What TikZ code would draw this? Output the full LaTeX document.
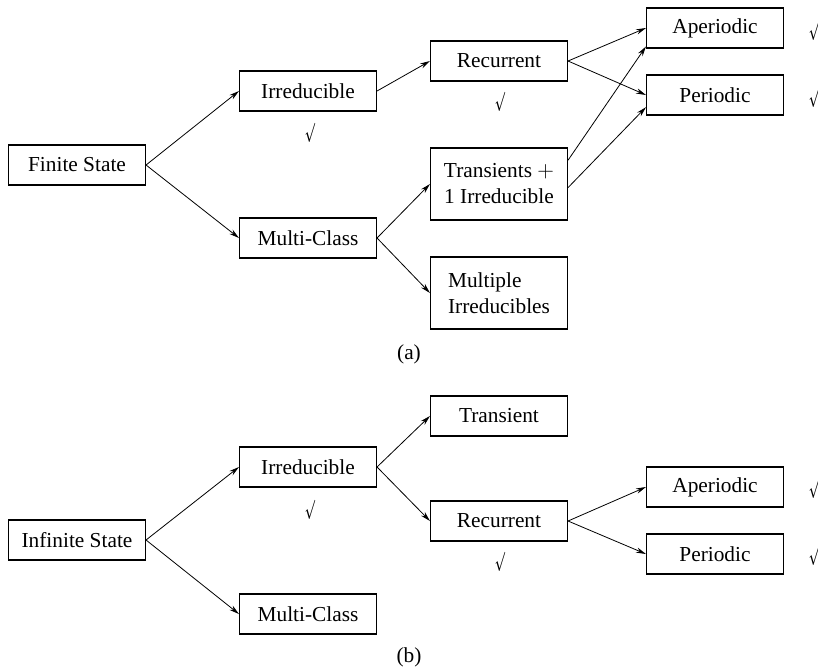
\documentclass[tikz,border=0pt]{standalone}
\usepackage{graphicx}
\usepackage{fontspec}
\setmainfont{Liberation Serif}
\usetikzlibrary{arrows.meta}

\newcommand{\tick}{\scalebox{0.55}[1]{\boldmath$\surd$}}

\begin{document}
\begin{tikzpicture}[x=0.75pt, y=-0.75pt,
  box/.style={draw, line width=0.8pt, minimum width=102.75pt, minimum height=30pt, inner sep=2pt, font=\fontsize{16}{19.5}\selectfont},
  tallbox/.style={box, minimum height=54pt},
  chk/.style={inner sep=0pt, font=\fontsize{14}{14}\selectfont},
  lbl/.style={inner sep=0pt, font=\fontsize{16}{18}\selectfont},
  arr/.style={-{Stealth[length=7.5pt, width=4pt]}, line width=0.6pt}]
  \useasboundingbox (0,0) rectangle (818,669);

  % (a) finite state chains
  \node[box] (fin)  at (77,165)  {Finite State};
  \node[box] (irra) at (308,91)  {Irreducible};
  \node[box] (mca)  at (308,238) {Multi-Class};
  \node[box] (reca) at (499,61)  {Recurrent};
  \node[tallbox, align=center] (trans) at (499,184) {Transients $+$\\1 Irreducible};
  \node[tallbox, align=left]   (mult)  at (499,293) {Multiple\\Irreducibles};
  \node[box] (apera) at (715,28) {Aperiodic};
  \node[box] (pera)  at (715,95) {Periodic};

  \node[chk] (c1) at (310,133) {\tick};
  \node[chk] (c2) at (500,102) {\tick};
  \node[chk] (c3) at (814,31)  {\tick};
  \node[chk] (c4) at (814,98)  {\tick};

  \draw[arr] (fin.east)  -- (irra.west);
  \draw[arr] (fin.east)  -- (mca.west);
  \draw[arr] (irra.east) -- (reca.west);
  \draw[arr] (reca.east) -- (apera.west);
  \draw[arr] (reca.east) -- (pera.west);
  \draw[arr] (mca.east)  -- (trans.west);
  \draw[arr] (mca.east)  -- (mult.west);
  \draw[arr] (trans.19)  -- (apera.195);
  \draw[arr] (trans.-3)  -- (pera.190);

  \node[lbl] (la) at (409,354) {(a)};

  % (b) infinite state chains
  \node[box] (inf)  at (77,540)  {Infinite State};
  \node[box] (irrb) at (308,467) {Irreducible};
  \node[box] (mcb)  at (308,614) {Multi-Class};
  \node[box] (tr)   at (499,416) {Transient};
  \node[box] (recb) at (499,521) {Recurrent};
  \node[box] (aperb) at (715,487) {Aperiodic};
  \node[box] (perb)  at (715,554) {Periodic};

  \node[chk] (c5) at (310,510) {\tick};
  \node[chk] (c6) at (500,562) {\tick};
  \node[chk] (c7) at (814,489) {\tick};
  \node[chk] (c8) at (814,556) {\tick};

  \draw[arr] (inf.east)  -- (irrb.west);
  \draw[arr] (inf.east)  -- (mcb.west);
  \draw[arr] (irrb.east) -- (tr.west);
  \draw[arr] (irrb.east) -- (recb.west);
  \draw[arr] (recb.east) -- (aperb.west);
  \draw[arr] (recb.east) -- (perb.west);

  \node[lbl] (lb) at (409,657) {(b)};
\end{tikzpicture}
\end{document}
